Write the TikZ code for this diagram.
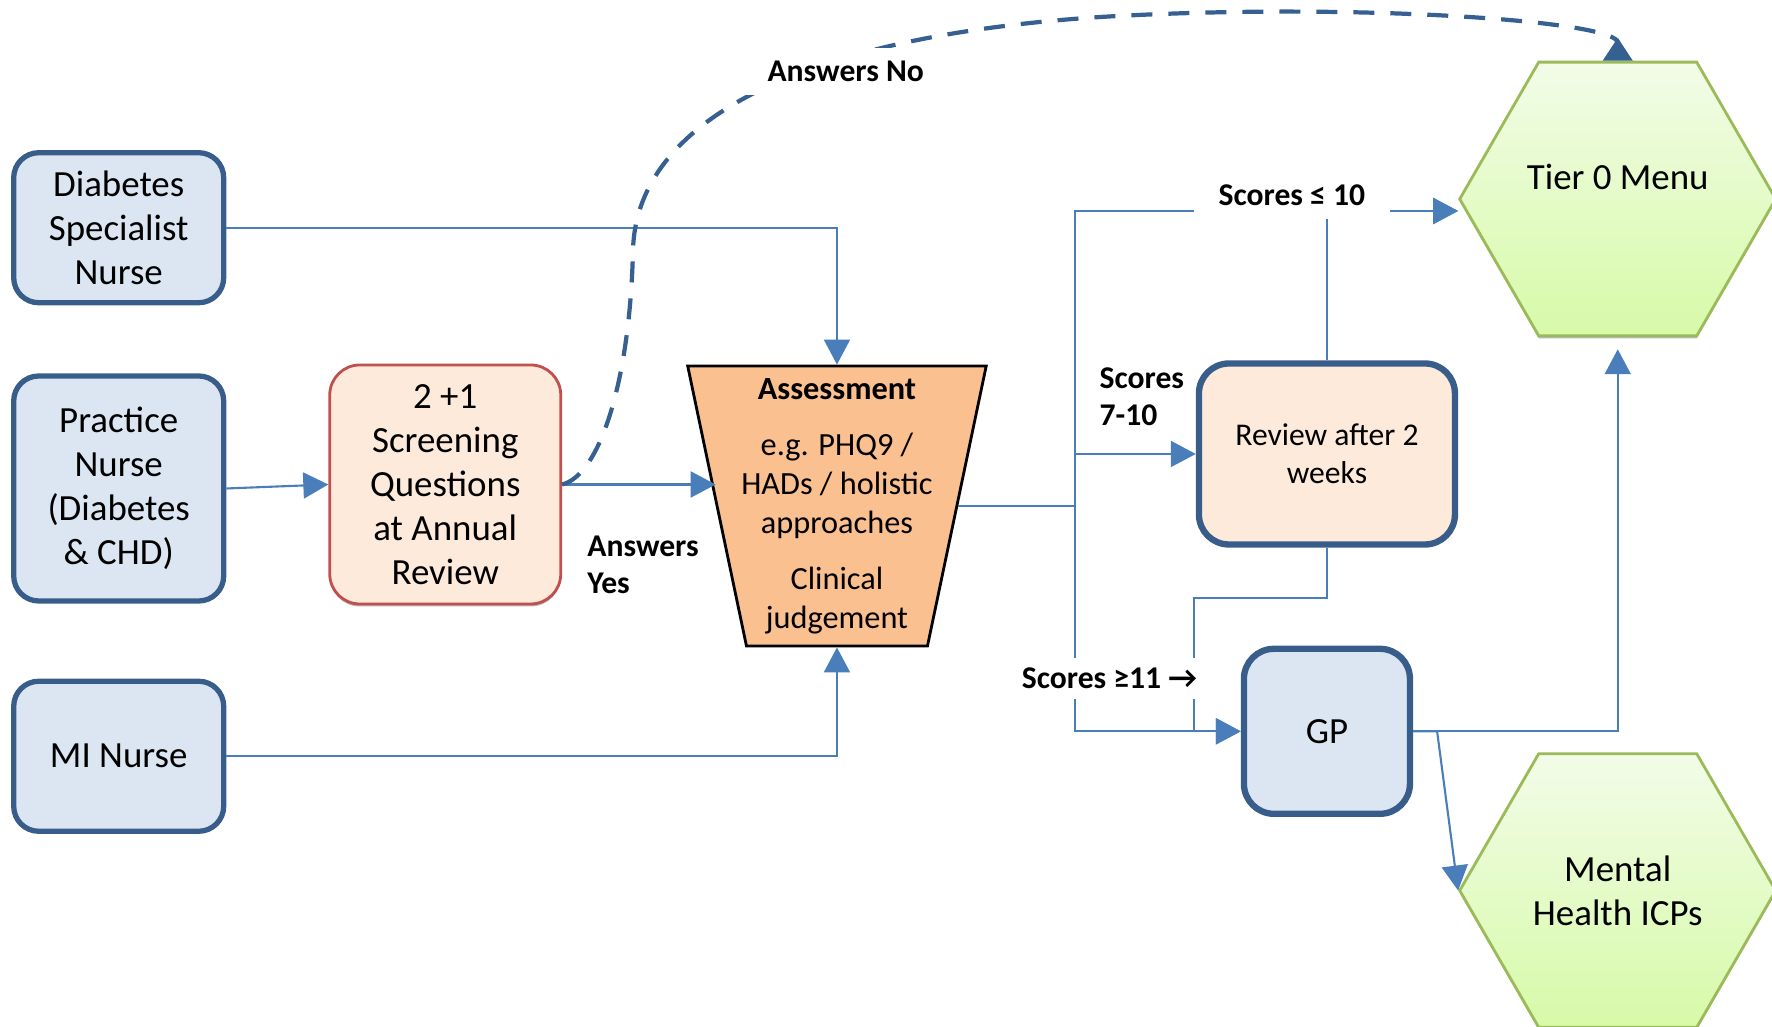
\documentclass[tikz,border=0pt]{standalone}
\usepackage{fontspec}
\setmainfont{Carlito}
\usetikzlibrary{shapes.geometric, arrows.meta, positioning, shadows}

\definecolor{lineblue}{HTML}{4A7EBB}
\definecolor{edgeblue}{HTML}{385D8A}
\definecolor{dashblue}{HTML}{376092}
\definecolor{paleblue}{HTML}{DCE6F2}
\definecolor{palepeach}{HTML}{FDEADA}
\definecolor{peachred}{HTML}{C0504D}
\definecolor{assorange}{HTML}{FAC090}
\definecolor{hexedge}{HTML}{9BBB59}
\definecolor{hextop}{HTML}{F2FCE8}
\definecolor{hexbottom}{HTML}{D7FAA8}

\begin{document}
\begin{tikzpicture}[
      x=0.1mm, y=-0.1mm,
      node distance=7.5mm,
      font=\fontsize{10.5}{12.5}\selectfont,
      staffbox/.style={
          rectangle,
          draw=edgeblue,
          line width=1.5pt,
          rounded corners=2.5mm,
          align=center,
          minimum width=21mm,
          minimum height=15mm,
          fill=paleblue
        },
      screenbox/.style={
          rectangle,
          draw=peachred,
          line width=0.8pt,
          rounded corners=3mm,
          align=center,
          minimum width=23.1mm,
          minimum height=23.9mm,
          fill=palepeach,
          drop shadow={shadow xshift=0pt, shadow yshift=-0.25mm, fill=black!55}
        },
      assbox/.style={
          trapezium,
          trapezium left angle=78.15,
          trapezium right angle=78.15,
          trapezium stretches body=true,
          shape border rotate=180,
          draw=black,
          line width=0.8pt,
          inner xsep=0pt,
          inner ysep=14mm,
          minimum width=29.85mm,
          fill=assorange
        },
      asstext/.style={
          align=center,
          inner sep=0pt,
          font=\fontsize{9.2}{11}\selectfont
        },
      reviewbox/.style={
          rectangle,
          draw=edgeblue,
          line width=1.8pt,
          rounded corners=3mm,
          align=center,
          minimum width=25.6mm,
          minimum height=18.1mm,
          fill=palepeach,
          font=\fontsize{9}{10.9}\selectfont
        },
      hexa/.style={
          regular polygon,
          regular polygon sides=6,
          draw=hexedge,
          line width=0.8pt,
          align=center,
          inner sep=0.3mm,
          minimum size=31.6mm,
          top color=hextop,
          bottom color=hexbottom,
          drop shadow={shadow xshift=0pt, shadow yshift=-0.25mm, fill=black!55}
        },
      lbl/.style={
          align=left,
          inner sep=0pt,
          font=\bfseries\fontsize{9}{10.6}\selectfont
        },
      lblfill/.style={
          lbl,
          fill=white,
          inner xsep=2.5mm,
          inner ysep=1.3mm
        },
      link/.style={
          draw=lineblue,
          line width=0.6pt
        },
      arrow/.style={
          link,
          -{Triangle[length=2.5mm,width=2.6mm]}
        },
      answerno/.style={
          draw=dashblue,
          line width=1.2pt,
          dash pattern=on 2.1mm off 1.6mm,
          -{Triangle[length=2.3mm,width=2.9mm,reversed]}
        }
    ]

    \useasboundingbox (0,0) rectangle (1772,1026);

    % Nodes
    \node[staffbox] (dsn) at (118.7,227.7) {Diabetes\\ Specialist\\ Nurse};
    \node[staffbox, below=6.8mm of dsn, minimum height=22.5mm] (pn) {Practice\\ Nurse\\ (Diabetes\\ \& CHD)};
    \node[staffbox, below=7.5mm of pn] (mi) {MI Nurse};
    \node[screenbox, right=10.2mm of pn, yshift=0.4mm] (scr) {2 +1\\ Screening\\ Questions\\ at Annual\\ Review};
    \node[assbox, right=15.35mm of scr, yshift=-2.15mm] (ass) {};
    \node[asstext] (asstxt) at (ass.center) {\textbf{Assessment}\\[1.8mm] e.g. PHQ9 /\\ HADs / holistic\\ approaches\\[1.8mm] Clinical\\ judgement};
    \node[reviewbox, right=23.75mm of ass, yshift=5.2mm] (rev) {Review after 2\\ weeks};
    \node[staffbox, below=9.8mm of rev, minimum width=16.6mm, minimum height=16.5mm, rounded corners=3mm, line width=1.8pt] (gp) {GP};
    \node[hexa, right=0mm of rev, yshift=25.5mm] (tier) {Tier 0 Menu\\ \mbox{}};
    \node[hexa, below=41.5mm of tier] (mh) {Mental\\ Health ICPs};

    % Arrows
    \draw[arrow] (dsn.east) -| (ass.north);
    \draw[arrow] (pn.east) -- (scr.west);
    \draw[arrow] (mi.east) -| (ass.south);
    \draw[arrow] (scr.east) -- (scr.east -| ass.west);
    \draw[arrow] (ass.east) -- ++(11.65mm,0) |- ([yshift=-1.2mm]tier.west);
    \draw[arrow] (ass.east) -- ++(11.65mm,0) |- (rev.west);
    \draw[arrow] (ass.east) -- ++(11.65mm,0) |- (gp.west);
    \draw[arrow] (rev.north) |- ([yshift=-1.2mm]tier.west);
    \draw[arrow] (rev.south) -- ++(0,-5.05mm) -| ([xshift=-4.7mm]gp.west) -- (gp.west);
    \draw[arrow] (gp.east) -| ([yshift=-1.2mm]tier.south);
    \draw[arrow] (gp.east) -- ++(2.4mm,0) -- (mh.west);
    \draw[answerno] (scr.east) .. controls (600,475) and (630,380) .. (633,250)
      .. controls (636,130) and (780,38) .. (1100,17) node[pos=0.68, yshift=-1.4mm, lblfill] (ansno) {Answers No}
      .. controls (1350,2) and ([yshift=4mm]tier.north) .. (tier.north);

    % Labels
    \node[lbl, right=2.45mm of scr.east, yshift=-8mm] (ansyes) {Answers\\ Yes};
    \node[lblfill, above=14.1mm of rev.north, xshift=-3.5mm] (low) {Scores ≤ 10};
    \node[lbl, left=1.1mm of rev.west, yshift=5.7mm] (mid) {Scores\\ 7-10};
    \node[lblfill, inner xsep=1mm, inner ysep=1mm, left=3.3mm of gp.west, yshift=5.3mm] (high) {Scores ≥11 →};

  \end{tikzpicture}
\end{document}
